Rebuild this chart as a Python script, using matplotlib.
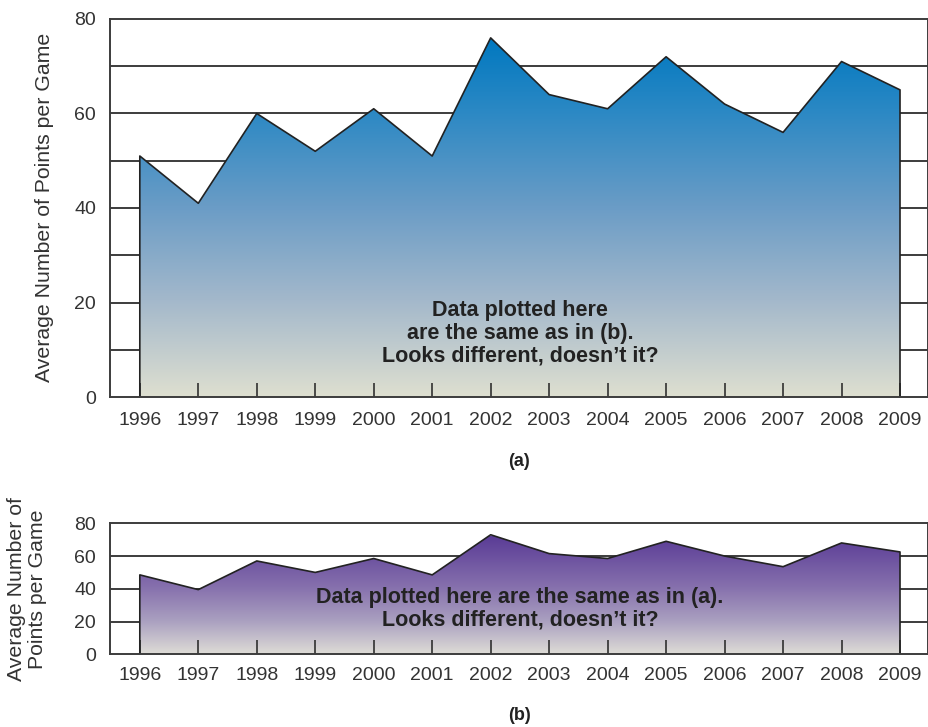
import numpy as np
import matplotlib
matplotlib.use("Agg")
import matplotlib.pyplot as plt
from matplotlib.colors import LinearSegmentedColormap
from matplotlib.patches import Polygon

plt.rcParams['font.family'] = ['Liberation Sans', 'DejaVu Sans']

years = [1996, 1997, 1998, 1999, 2000, 2001, 2002, 2003, 2004, 2005, 2006, 2007, 2008, 2009]
points_a = [51, 41, 60, 52, 61, 51, 76, 64, 61, 72, 62, 56, 71, 65]
points_b = [48.5, 39.5, 57, 50, 58.5, 48.5, 73, 61.5, 58.5, 69, 60, 53.5, 68, 62.5]

yticks_a = [0, 20, 40, 60, 80]
grid_a = [10, 20, 30, 40, 50, 60, 70]
yticks_b = [0, 20, 40, 60, 80]
grid_b = [20, 40, 60]

note_a = "Data plotted here\nare the same as in (b).\nLooks different, doesn\u2019t it?"
note_b = "Data plotted here are the same as in (a).\nLooks different, doesn\u2019t it?"

TXT = '#333333'
LINE = '#3c3c3c'

blue = LinearSegmentedColormap.from_list('blue', [
    (0.0, '#dedfd0'), (0.27, '#a3b8cb'), (0.53, '#6a9cc6'),
    (0.8, '#2a88c4'), (1.0, '#0078c0')])
purple = LinearSegmentedColormap.from_list('purple', [
    (0.0, '#dedcd6'), (0.28, '#aaa0c0'), (0.57, '#8670ad'),
    (1.0, '#5a3c96')])


def area_panel(ax, vals, cmap, top, grid, ticks, note, note_y, pad):
    x = np.array(years, dtype=float)
    y = np.array(vals, dtype=float)
    ax.set_xlim(1995.49, 2009.48)
    ax.set_ylim(0, 80)

    for g in grid:
        ax.axhline(g, color=LINE, lw=1.4, zorder=0.5)

    # gradient clipped to the area under the line
    grad = np.linspace(0, 1, 256).reshape(-1, 1)
    img = ax.imshow(grad, cmap=cmap, extent=[x[0], x[-1], 0, top],
                    origin='lower', aspect='auto', zorder=1)
    verts = [(x[0], 0)] + list(zip(x, y)) + [(x[-1], 0)]
    poly = Polygon(verts, closed=True, facecolor='none', edgecolor='none',
                   transform=ax.transData)
    ax.add_patch(poly)
    img.set_clip_path(poly)
    ax.plot([x[0]] + list(x) + [x[-1]], [0] + list(y) + [0],
            color='#222222', lw=1.2, zorder=2)
    ax.set_xlim(1995.49, 2009.48)
    ax.set_ylim(0, 80)

    for s in ax.spines.values():
        s.set_color(LINE)
        s.set_linewidth(1.4)
    ax.set_xticks(years)
    ax.set_xticklabels([str(v) for v in years])
    ax.tick_params(axis='x', direction='in', length=10, width=1.1,
                   color='#222222', labelsize=14, labelcolor=TXT, pad=pad)
    ax.set_yticks(ticks)
    ax.tick_params(axis='y', length=0, labelsize=14, labelcolor=TXT, pad=10)

    ax.text(2002.5, note_y, note, ha='center', va='center', fontsize=15.5,
            fontweight='bold', color='#222222', linespacing=1.1, zorder=3)


fig = plt.figure(figsize=(9.29, 7.27), dpi=100)
ax1 = fig.add_axes([0.1184, 0.4539, 0.8806, 0.52])
ax2 = fig.add_axes([0.1184, 0.1000, 0.8806, 0.1802])

area_panel(ax1, points_a, blue, 76, grid_a, yticks_a, note_a, 13.5, 11)
area_panel(ax2, points_b, purple, 72, grid_b, yticks_b, note_b, 28, 9)

fig.text(0.048, 0.715, "Average Number of Points per Game", rotation=90,
         ha='center', va='center', fontsize=15.3, color=TXT)
fig.text(0.029, 0.19, "Average Number of\nPoints per Game", rotation=90,
         ha='center', va='center', fontsize=15.3, color=TXT, linespacing=1.1)

fig.text(0.559, 1 - 462 / 727, "(a)", ha='center', va='center',
         fontsize=13, fontweight='bold', color='#222222')
fig.text(0.559, 1 - 715 / 727, "(b)", ha='center', va='center',
         fontsize=13, fontweight='bold', color='#222222')

fig.savefig('out.png', dpi=100)
